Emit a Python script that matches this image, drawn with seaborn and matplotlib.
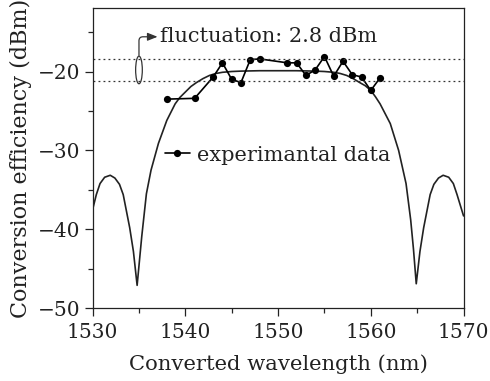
import numpy as np
import pandas as pd
import seaborn as sns
import matplotlib.pyplot as plt
from matplotlib.patches import Ellipse

# Theoretical conversion curve
theory_wl = [1530.0, 1530.4, 1530.8, 1531.3, 1531.9, 1532.4, 1532.9, 1533.3, 1533.6,
             1534.0, 1534.4, 1534.8, 1535.3, 1535.8, 1536.3, 1537.1, 1538.0, 1538.9,
             1539.4, 1540.0, 1540.6, 1541.2, 1541.9, 1542.6, 1543.3, 1544.0, 1545.0,
             1546.0, 1548.0, 1550.0, 1552.0, 1554.0, 1555.0, 1556.0, 1556.7, 1557.4,
             1558.1, 1558.8, 1559.4, 1560.0, 1560.5, 1561.0, 1562.1, 1563.0, 1563.8,
             1564.3, 1564.6, 1564.9, 1565.3, 1565.7, 1566.1, 1566.4, 1566.8, 1567.3,
             1567.8, 1568.4, 1568.9, 1569.3, 1570.0]
theory_db = [-37.5, -35.6, -34.2, -33.4, -33.15, -33.5, -34.3, -35.6, -37.4,
             -39.8, -42.8, -47.1, -40.9, -35.5, -32.5, -29.1, -26.2, -24.1,
             -23.3, -22.6, -21.9, -21.4, -20.9, -20.5, -20.25, -20.1, -20.0,
             -19.95, -19.9, -19.9, -19.9, -19.95, -20.0, -20.1, -20.25, -20.5,
             -20.9, -21.4, -21.8, -22.4, -23.2, -24.1, -26.6, -30.0, -34.2,
             -38.8, -42.5, -46.9, -42.8, -39.8, -37.4, -35.6, -34.3, -33.5,
             -33.15, -33.4, -34.2, -35.6, -38.3]

# Experimental data
exp_wl = [1538, 1541, 1543, 1544, 1545, 1546, 1547, 1548, 1551, 1552,
          1553, 1554, 1555, 1556, 1557, 1558, 1559, 1560, 1561]
exp_db = [-23.5, -23.4, -20.7, -18.9, -21.0, -21.4, -18.5, -18.4, -18.9, -18.9,
          -20.5, -19.8, -18.1, -20.6, -18.7, -20.4, -20.7, -22.4, -20.8]

# Fluctuation band
band_hi = -18.4
band_lo = -21.2

theory = pd.DataFrame({'wl': theory_wl, 'db': theory_db})
exp = pd.DataFrame({'wl': exp_wl, 'db': exp_db})

sns.set_theme(style='ticks')
plt.rcParams['font.family'] = ['DejaVu Serif']
plt.rcParams['mathtext.fontset'] = 'dejavuserif'

fig = plt.figure(figsize=(4.9, 3.81), dpi=100)
ax = fig.add_axes([0.189, 0.191, 0.757, 0.787])

sns.lineplot(data=theory, x='wl', y='db', ax=ax, color='#222222', lw=1.2,
             estimator=None, sort=False, label='_nolegend_')
sns.lineplot(data=exp, x='wl', y='db', ax=ax, color='black', lw=1.2,
             marker='o', markersize=5.2, markeredgewidth=0, estimator=None,
             sort=False, label='experimantal data')

ax.axhline(band_hi, color='#333333', lw=0.9, ls=(0, (1.5, 2.5)))
ax.axhline(band_lo, color='#333333', lw=0.9, ls=(0, (1.5, 2.5)))

# ellipse marking the band + curved arrow to the label
ax.add_patch(Ellipse((1535.0, (band_hi + band_lo) / 2), 0.72, 3.5,
                     fill=False, ec='#333333', lw=0.9))
ax.annotate('', xy=(1537.0, -15.6), xytext=(1535.0, -17.95),
            arrowprops=dict(arrowstyle='-|>,head_length=0.5,head_width=0.2',
                            color='#333333', lw=0.9, shrinkA=0, shrinkB=0,
                            connectionstyle='angle,angleA=90,angleB=0,rad=4'))
ax.text(1537.25, -15.6, 'fluctuation: 2.8 dBm', ha='left', va='center',
        fontsize=15, color='#222222')

ax.set_xlim(1530, 1570)
ax.set_ylim(-50, -12)
ax.set_xticks([1530, 1540, 1550, 1560, 1570])
ax.set_xticks([1535, 1545, 1555, 1565], minor=True)
ax.set_yticks([-50, -40, -30, -20])
ax.set_yticks([-45, -35, -25, -15], minor=True)
ax.tick_params(which='major', length=5.5, width=0.9, labelsize=14.5,
               colors='#222222')
ax.tick_params(axis='x', which='major', pad=5)
ax.tick_params(axis='y', which='major', pad=3.5)
ax.tick_params(which='minor', length=3.5, width=0.9)
for s in ax.spines.values():
    s.set_visible(True)
    s.set_linewidth(0.9)
    s.set_color('#222222')

ax.set_xlabel('Converted wavelength (nm)', fontsize=15.2, color='#222222', labelpad=9)
ax.set_ylabel('Conversion efficiency (dBm)', fontsize=16, color='#222222', labelpad=4)

ax.legend(loc='center left', bbox_to_anchor=(0.195, 0.511), frameon=False,
          fontsize=15, handlelength=1.2, handletextpad=0.35,
          borderpad=0, borderaxespad=0, labelcolor='#222222')

fig.savefig('out.png', dpi=100)
